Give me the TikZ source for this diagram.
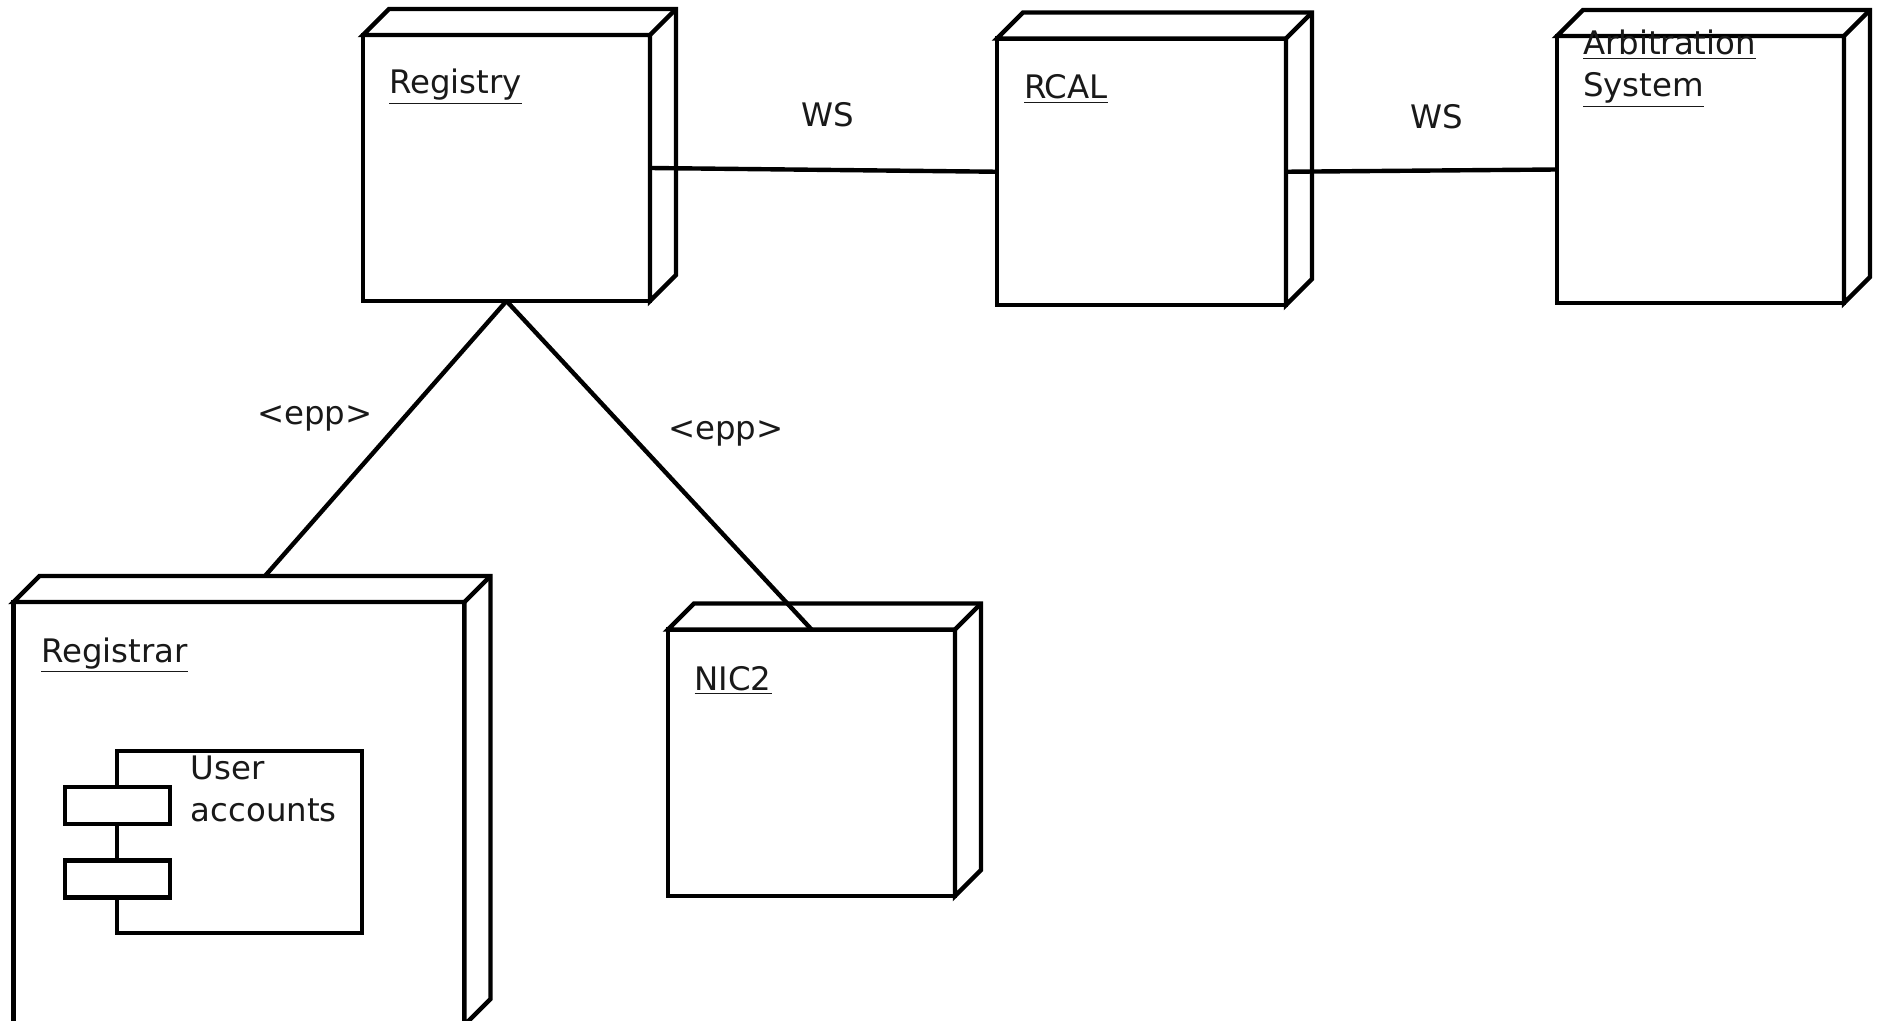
\documentclass[tikz,border=0pt]{standalone}
\usepackage{fontspec}
\setmainfont{DejaVu Sans}
\usetikzlibrary{calc}
\tikzset{
  line/.style={draw=black,line width=2.2pt,miter limit=10},
  frontbox/.style={line,fill=white,rectangle,inner sep=0pt,outer sep=0pt},
  txt/.style={inner sep=0pt,outer sep=0pt,anchor=base west,align=left,text=black!90,font=\fontsize{16.2}{21}\selectfont},
  conn/.style={line}
}
\newcommand\depnode[5]{%
  \pgfmathsetmacro\dw{(#4-#2)*0.5}\pgfmathsetmacro\dh{(#5-#3)*0.5}%
  \node[frontbox,minimum width=\dw pt,minimum height=\dh pt] (#1) at ({(#2+#4)/2},{(#3+#5)/2}) {};
  \draw[line,line join=miter,fill=white] (#1.north west) -- ++(26,-26) -- ($(#1.north east)+(26,-26)$) -- ($(#1.south east)+(26,-26)$) -- (#1.south east) -- (#1.north east) -- cycle;
  \draw[line] (#1.north east) -- ++(26,-26);
}
\begin{document}
\begin{tikzpicture}[x=0.5pt,y=-0.5pt]
\useasboundingbox (0,0) rectangle (1884,1021);
\clip (0,0) rectangle (1884,1021);
\fill[white] (0,0) rectangle (1884,1021);
\depnode{registry}{363}{35}{650}{301}
\depnode{rcal}{997}{38.5}{1286}{305}
\depnode{arb}{1557}{36}{1844}{303}
\depnode{registrar}{13.5}{602}{464.5}{1025}
\depnode{nic}{668}{629.5}{955}{896}
\coordinate (registrartop) at ($(registrar.north)+(26,-26)$);
\draw[conn] (registry.east) -- (rcal.west);
\draw[conn] (rcal.east) -- (arb.west);
\draw[conn] (registry.south) -- (registrartop);
\draw[conn] (registry.south) -- (nic.north);
\node[frontbox,minimum width=122.5pt,minimum height=91.25pt] (comp) at (239.5,842) {};
\node[frontbox,minimum width=52.6pt,minimum height=18.5pt] (tab1) at (117.3,805.5) {};
\node[frontbox,minimum width=52.6pt,minimum height=18.5pt] (tab2) at (117.3,879) {};
\node[txt] (tregistry) at (389,94) {\underline{Registry}};
\node[txt] (trcal) at (1024,99) {\underline{RCAL}};
\node[txt] (tarb) at (1583,97) {\underline{Arbitration}\\\underline{System}};
\node[txt] (tregistrar) at (41,662) {\underline{Registrar}};
\node[txt] (tnic) at (694.5,690) {\underline{NIC2}};
\node[txt] (tuser) at (190.7,821) {User\\accounts};
\node[txt] (ws1) at (801,127) {WS};
\node[txt] (ws2) at (1410.5,129) {WS};
\node[txt] (epp1) at (257,424) {<epp>};
\node[txt] (epp2) at (668,439) {<epp>};
\end{tikzpicture}
\end{document}
